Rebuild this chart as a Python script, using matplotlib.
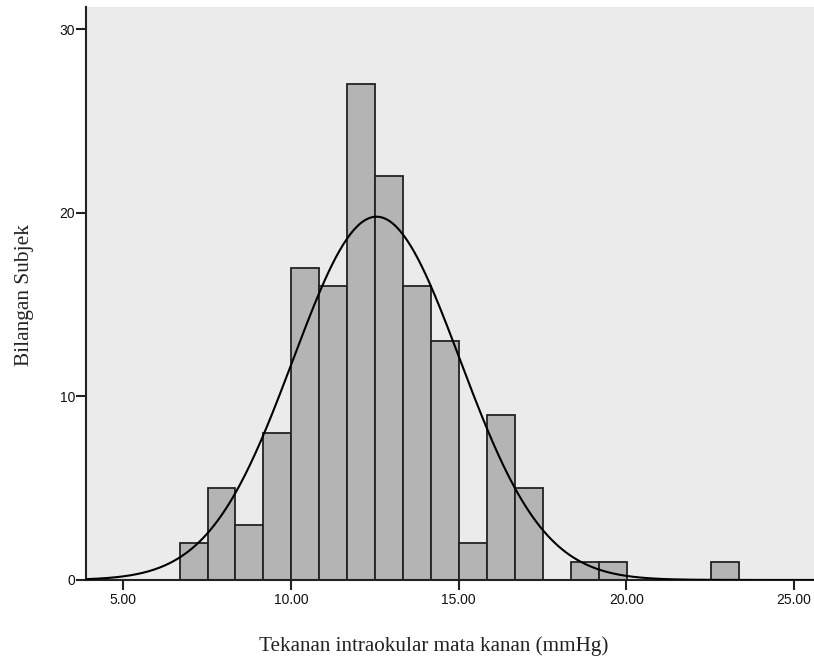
import numpy as np
import matplotlib
matplotlib.use("Agg")
import matplotlib.pyplot as plt

# histogram bins (SPSS style, 20 equal bins)
bin_start = 6.674
bin_width = 0.8346
counts = [2, 5, 3, 8, 17, 16, 27, 22, 16, 13, 2, 9, 5, 0, 1, 1, 0, 0, 0, 1]

# normal curve parameters (mean / SD of the sample)
mean_iop = 12.55
sd_iop = 2.49

xticks = [5, 10, 15, 20, 25]
yticks = [0, 10, 20, 30]

n = sum(counts)
edges = bin_start + bin_width * np.arange(len(counts) + 1)

fig = plt.figure(figsize=(8.14, 6.57), dpi=100)
ax = fig.add_axes([0.1057, 0.1172, 0.8943, 0.8726])
ax.set_facecolor('#ebebeb')

ax.bar(edges[:-1], counts, width=bin_width, align='edge',
       color='#b4b4b4', edgecolor='#222222', linewidth=1.3, zorder=2)

xs = np.linspace(3.885, 25.6, 400)
pdf = np.exp(-0.5 * ((xs - mean_iop) / sd_iop) ** 2) / (sd_iop * np.sqrt(2 * np.pi))
ax.plot(xs, n * bin_width * pdf, color='black', linewidth=1.5, zorder=3)

ax.set_xlim(3.885, 25.6)
ax.set_ylim(0, 31.23)
ax.set_xticks(xticks)
ax.set_xticklabels([f'{v:.2f}' for v in xticks])
ax.set_yticks(yticks)

for s in ['top', 'right']:
    ax.spines[s].set_visible(False)
for s in ['left', 'bottom']:
    ax.spines[s].set_linewidth(1.5)
    ax.spines[s].set_color('#222222')

ax.tick_params(axis='both', direction='out', length=7, width=1.5, color='#222222',
               labelsize=10, labelcolor='#111111')
ax.tick_params(axis='x', pad=2.5)
ax.tick_params(axis='y', pad=1)
for lab in ax.get_xticklabels() + ax.get_yticklabels():
    lab.set_family('Liberation Sans')

ax.set_xlabel('Tekanan intraokular mata kanan (mmHg)', family='Liberation Serif',
              fontsize=15.2, color='#222222')
ax.set_ylabel('Bilangan Subjek', family='Liberation Serif', fontsize=15.4, color='#222222')
ax.xaxis.set_label_coords(0.477, -0.098)
ax.yaxis.set_label_coords(-0.071, 0.4965)

fig.savefig('out.png', dpi=100, facecolor='white')
